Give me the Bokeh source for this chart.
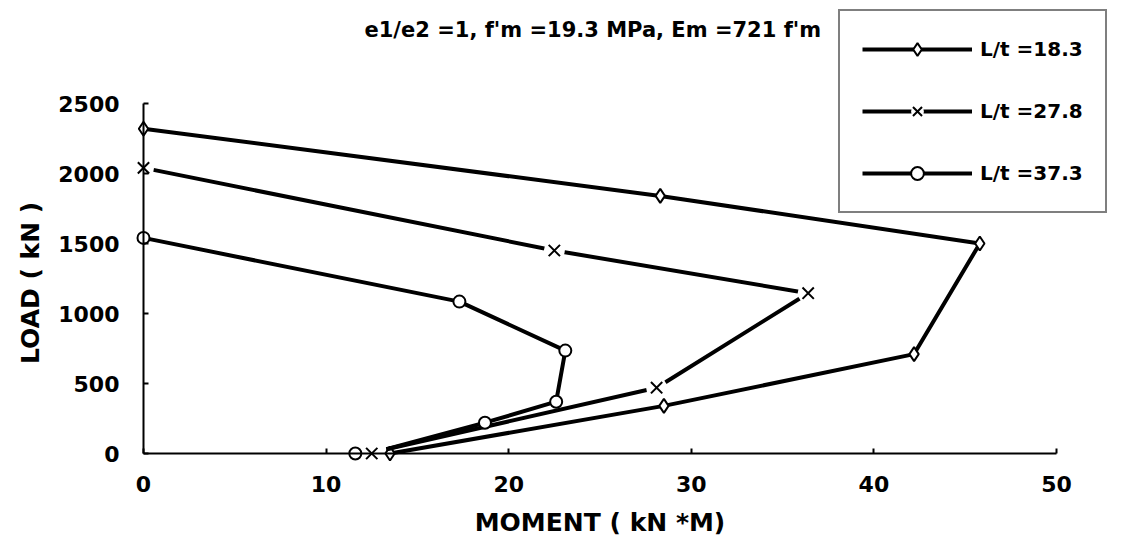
from bokeh.plotting import figure
from bokeh.models import Range1d, FixedTicker, Legend, LegendItem, Label, LinearAxis
from bokeh.embed import file_html
from bokeh.resources import INLINE

# ---------------- data ----------------
title_text = "e1/e2 =1, f'm =19.3 MPa, Em =721 f'm"
x_label = "MOMENT ( kN *M)"
y_label = "LOAD  ( kN )"
x_ticks = [0, 10, 20, 30, 40, 50]
y_ticks = [0, 500, 1000, 1500, 2000, 2500]

labels = ["L/t =18.3", "L/t =27.8", "L/t =37.3"]

# L/t = 18.3 (diamonds)
moment_18 = [13.5, 28.5, 42.2, 45.8, 28.3, 0.0]
load_18 = [0, 340, 710, 1500, 1840, 2320]

# L/t = 27.8 (crosses)
moment_27 = [12.5, 28.1, 36.4, 22.5, 0.0]
load_27 = [0, 470, 1145, 1450, 2040]

# L/t = 37.3 (circles)
moment_37 = [11.6, 18.7, 22.6, 23.1, 17.3, 0.0]
load_37 = [0, 220, 370, 735, 1085, 1540]

# common point where the curves leave the moment axis
origin_moment = 13.3
origin_load = 30

# ---------------- layout (pixels) ----------------
W, H = 1118, 544
X0_PX, X1_PX = 143, 1056     # pixel of x=0 and x=50
Y0_PX, Y1_PX = 453, 103      # pixel of y=0 and y=2500
XMAX, YMAX = x_ticks[-1], y_ticks[-1]
sx = (X1_PX - X0_PX) / XMAX
sy = (Y0_PX - Y1_PX) / YMAX
x_range = Range1d(-X0_PX / sx, XMAX + (W - X1_PX) / sx)
y_range = Range1d(-(H - Y0_PX) / sy, YMAX + Y1_PX / sy)

FONT = "DejaVu Sans"
p = figure(width=W, height=H, x_range=x_range, y_range=y_range,
           output_backend="svg", toolbar_location=None,
           x_axis_type=None, y_axis_type=None,
           min_border_left=0, min_border_right=0,
           min_border_top=0, min_border_bottom=0)
p.grid.visible = False
p.outline_line_color = None
p.background_fill_color = "white"
p.border_fill_color = "white"

xaxis = LinearAxis(fixed_location=0, bounds=(0, XMAX), axis_label=x_label)
yaxis = LinearAxis(fixed_location=0, bounds=(0, YMAX), axis_label=y_label)
for ax, ticks in ((xaxis, x_ticks), (yaxis, y_ticks)):
    ax.ticker = FixedTicker(ticks=ticks)
    ax.axis_line_width = 2
    ax.axis_line_color = "black"
    ax.major_tick_in = 5
    ax.major_tick_out = 0
    ax.major_tick_line_width = 2
    ax.minor_tick_in = 0
    ax.minor_tick_out = 0
    ax.major_label_text_font = FONT
    ax.major_label_text_font_style = "bold"
    ax.major_label_text_font_size = "22px"
    ax.major_label_text_color = "black"
    ax.axis_label_text_font = FONT
    ax.axis_label_text_font_style = "bold"
    ax.axis_label_text_font_size = "25px"
    ax.axis_label_text_color = "black"
xaxis.major_label_standoff = 22
xaxis.axis_label_standoff = 13
yaxis.major_label_standoff = 24
yaxis.axis_label_standoff = 10
p.add_layout(xaxis, "below")
p.add_layout(yaxis, "left")

LW = 4

# L/t = 18.3
l1 = p.line(moment_18, load_18, line_color="black", line_width=LW)
s1 = p.scatter(moment_18, load_18, marker="diamond", size=14,
               fill_color="white", line_color="black", line_width=2)

# L/t = 27.8
l2 = p.line([origin_moment] + moment_27[1:], [origin_load] + load_27[1:],
            line_color="black", line_width=LW)
g2 = p.scatter(moment_27, load_27, marker="circle", size=21,
               fill_color="white", line_color=None)
s2 = p.scatter(moment_27, load_27, marker="x", size=16,
               line_color="black", line_width=2)

# L/t = 37.3
l3 = p.line([origin_moment] + moment_37[1:], [origin_load] + load_37[1:],
            line_color="black", line_width=LW)
s3 = p.scatter(moment_37, load_37, marker="circle", size=12,
               fill_color="white", line_color="black", line_width=2)

legend = Legend(items=[
    LegendItem(label=labels[0], renderers=[l1, s1]),
    LegendItem(label=labels[1], renderers=[l2, g2, s2]),
    LegendItem(label=labels[2], renderers=[l3, s3]),
], location=(838, H - 213))
legend.glyph_width = 110
legend.glyph_height = 32
legend.label_height = 32
legend.spacing = 30
legend.padding = 22
legend.margin = 0
legend.label_standoff = 8
legend.label_text_font = FONT
legend.label_text_font_style = "bold"
legend.label_text_font_size = "20px"
legend.label_text_color = "black"
legend.border_line_color = "black"
legend.border_line_width = 2
legend.background_fill_color = "white"
legend.background_fill_alpha = 1.0
p.add_layout(legend, "center")

title = Label(x=(364 - X0_PX) / sx, y=(Y0_PX - 29) / sy, text=title_text,
              text_font=FONT, text_font_style="bold", text_font_size="21px",
              text_align="left", text_baseline="middle", text_color="black")
p.add_layout(title)

open("out.html", "w").write(file_html(p, INLINE))
